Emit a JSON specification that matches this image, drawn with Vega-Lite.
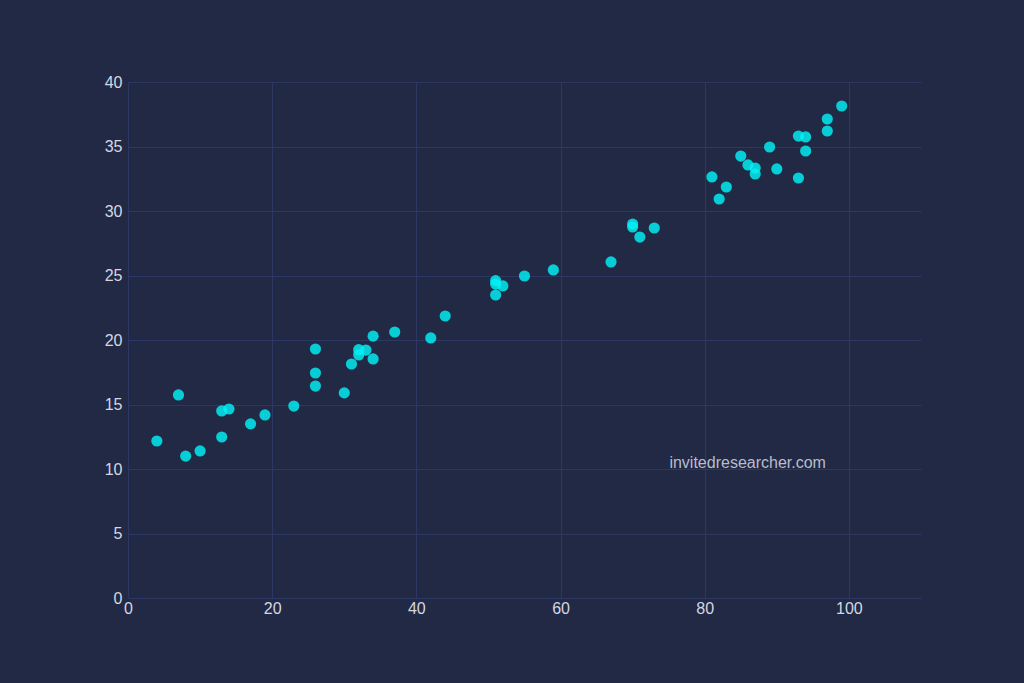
{
  "$schema": "https://vega.github.io/schema/vega-lite/v6.json",
  "width": 793,
  "height": 516,
  "padding": {"left": 128, "top": 82, "right": 103, "bottom": 85},
  "autosize": {"type": "none"},
  "background": "#222945",
  "config": {
    "view": {"stroke": null},
    "font": "Liberation Sans",
    "axis": {
      "domain": false,
      "ticks": false,
      "gridColor": "#2c3763",
      "gridWidth": 1,
      "labelColor": "#d4d7e2",
      "labelFont": "Liberation Sans",
      "labelFontSize": 16,
      "labelFlush": false,
      "title": null
    }
  },
  "datasets": {
    "pts": [
      {"x": 4, "y": 12.17}, {"x": 7, "y": 15.74}, {"x": 8, "y": 11.0}, {"x": 10, "y": 11.4},
      {"x": 13, "y": 14.5}, {"x": 13, "y": 12.48}, {"x": 14, "y": 14.65}, {"x": 17, "y": 13.5},
      {"x": 19, "y": 14.19}, {"x": 23, "y": 14.88}, {"x": 26, "y": 19.3}, {"x": 26, "y": 17.44},
      {"x": 26, "y": 16.43}, {"x": 30, "y": 15.9}, {"x": 31, "y": 18.14}, {"x": 32, "y": 19.25},
      {"x": 32, "y": 18.84}, {"x": 33, "y": 19.22}, {"x": 34, "y": 20.3}, {"x": 34, "y": 18.53},
      {"x": 37, "y": 20.62}, {"x": 42, "y": 20.16}, {"x": 44, "y": 21.86}, {"x": 51, "y": 24.6},
      {"x": 51, "y": 24.34}, {"x": 52, "y": 24.19}, {"x": 51, "y": 23.49}, {"x": 55, "y": 24.96},
      {"x": 59, "y": 25.43}, {"x": 67, "y": 26.05}, {"x": 70, "y": 28.99}, {"x": 70, "y": 28.76},
      {"x": 71, "y": 27.98}, {"x": 73, "y": 28.68}, {"x": 81, "y": 32.64}, {"x": 83, "y": 31.86},
      {"x": 82, "y": 30.93}, {"x": 85, "y": 34.26}, {"x": 86, "y": 33.57}, {"x": 87, "y": 33.33},
      {"x": 87, "y": 32.87}, {"x": 89, "y": 34.96}, {"x": 90, "y": 33.26}, {"x": 93, "y": 35.81},
      {"x": 94, "y": 35.74}, {"x": 94, "y": 34.65}, {"x": 93, "y": 32.56}, {"x": 97, "y": 37.13},
      {"x": 97, "y": 36.2}, {"x": 99, "y": 38.14}
    ],
    "note": [{"x": 75.1, "y": 10.45, "label": "invitedresearcher.com"}]
  },
  "layer": [
    {
      "data": {"name": "pts"},
      "mark": {"type": "circle", "size": 125, "color": "#00f2f7", "opacity": 0.82},
      "encoding": {
        "x": {"field": "x", "type": "quantitative", "scale": {"domain": [0, 110], "nice": false},
              "axis": {"values": [0, 20, 40, 60, 80, 100], "labelPadding": 2}},
        "y": {"field": "y", "type": "quantitative", "scale": {"domain": [0, 40], "nice": false},
              "axis": {"values": [0, 5, 10, 15, 20, 25, 30, 35, 40], "labelPadding": 6}}
      }
    },
    {
      "data": {"name": "note"},
      "mark": {"type": "text", "align": "left", "baseline": "middle", "fontSize": 16, "color": "#b9bdcc", "font": "Liberation Sans"},
      "encoding": {
        "x": {"field": "x", "type": "quantitative"},
        "y": {"field": "y", "type": "quantitative"},
        "text": {"field": "label"}
      }
    }
  ]
}
